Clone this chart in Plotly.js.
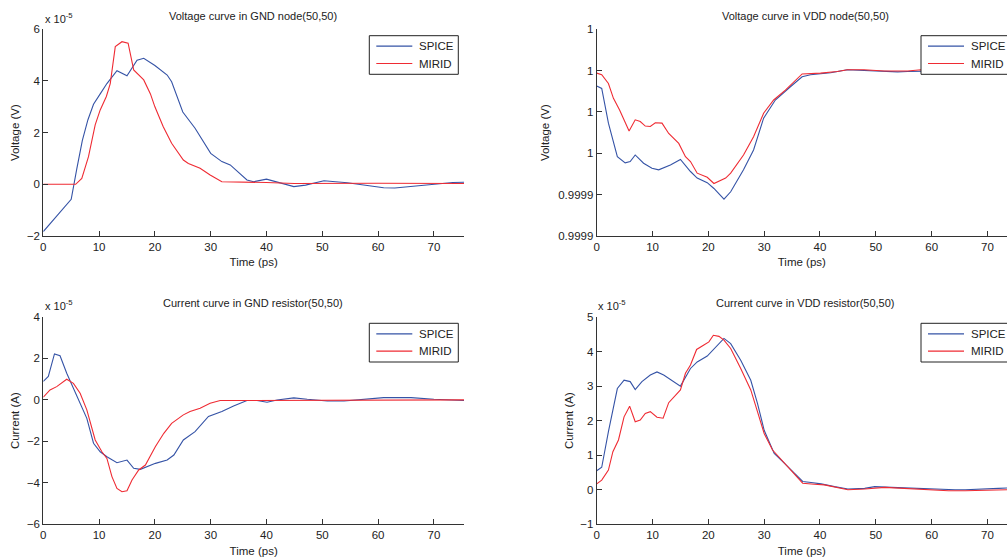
<!DOCTYPE html>
<html>
<head>
<meta charset="utf-8">
<script src="https://cdn.plot.ly/plotly-3.0.1.min.js"></script>
<style>
html,body{margin:0;padding:0;background:#fff;}
#chart{width:1007px;height:560px;}
</style>
</head>
<body>
<div id="chart"></div>
<script>
// ---------- DATA ----------
// Panel 1: Voltage curve in GND node(50,50)  (values x 1e-5 V)
const gndVoltSpiceT = [0,5,6,7,8,9,10.2,11.4,13.2,15,16.8,18,20,22.2,23,25,27.2,30,32,33.5,36.5,37.7,40,41.8,44.9,47,50.3,54.5,58,61,63,67,70,73.4,75.4];
const gndVoltSpiceV = [-1.83,-0.58,0.6,1.7,2.5,3.1,3.5,3.9,4.4,4.2,4.8,4.88,4.6,4.23,3.97,2.8,2.17,1.2,0.88,0.75,0.17,0.1,0.2,0.1,-0.09,-0.03,0.14,0.06,-0.04,-0.13,-0.14,-0.06,0.0,0.07,0.08];
const gndVoltMiridT = [0,5.8,6.9,8.1,9.3,10.2,11.3,12,12.9,14.1,15.2,16.2,18,19.2,20,21.5,23,25.1,26,28.1,29.9,32,40,45,60,75.4];
const gndVoltMiridV = [0,0,0.23,1.07,2.3,2.88,3.4,3.9,5.33,5.52,5.46,4.43,4.04,3.5,3.0,2.23,1.59,0.94,0.81,0.62,0.36,0.1,0.07,0.03,0.04,0.03];

// Panel 2: Voltage curve in VDD node(50,50)  (V)
const vddVoltSpiceT = [0,0.9,2.1,3.7,5.1,6,6.9,8.4,9.9,11.1,13.2,15,16.8,18,19.8,21,22.8,24,26.3,28.1,29.9,32,34.7,36.8,38.3,40.1,41.9,44.9,47.9,50.9,53.9,55.7,60,65,73.5];
const vddVoltSpiceV = [0.9999926,0.9999914,0.9999746,0.9999584,0.9999554,0.999956,0.9999592,0.9999552,0.9999528,0.999952,0.9999544,0.999957,0.9999512,0.999948,0.9999458,0.999943,0.9999378,0.9999414,0.999952,0.9999616,0.999977,0.9999858,0.9999922,0.999997,0.999998,0.9999984,0.999999,1.0000004,1.0,0.9999996,0.9999994,0.9999996,0.9999998,1.0,1.0];
const vddVoltMiridT = [0,0.9,2.1,3,4.1,5.1,5.8,6.9,7.8,8.7,9.6,10.5,11.7,12.9,14.7,15.9,16.8,18,19.8,21,23.1,24,26.3,28.1,29.9,31.7,33.8,36.8,40.1,43.1,44.9,47.9,51.5,55.7,58.1,65,73.5];
const vddVoltMiridV = [0.9999988,0.999998,0.9999938,0.9999866,0.999981,0.9999746,0.9999708,0.9999762,0.9999754,0.9999732,0.999973,0.9999748,0.9999746,0.9999696,0.9999648,0.9999584,0.999956,0.9999504,0.9999484,0.9999454,0.999948,0.9999504,0.9999592,0.999968,0.9999794,0.9999858,0.9999906,0.9999984,0.9999988,0.9999996,1.0000004,1.0000004,0.9999998,0.9999998,1.0000004,1.0000002,1.0000002];
const vddTickVals = [0.99992,0.99994,0.99996,0.99998,1.0,1.00002];
const vddTickText = ['0.9999','0.9999','1','1','1','1'];

// Panel 3: Current curve in GND resistor(50,50)  (values x 1e-5 A)
const gndCurSpiceT = [0,0.9,2,3,4.2,6,7.8,9,10.2,11.4,13.2,15,16.2,17.4,18.6,20.1,22.2,23.4,25.1,27.2,29.6,32,34.1,36.5,38.3,40.1,41.9,44.9,47.3,50.9,53.9,58,61,65.9,70,75.4];
const gndCurSpiceV = [0.89,1.13,2.22,2.13,1.29,0.16,-0.89,-2.09,-2.5,-2.74,-3.03,-2.9,-3.3,-3.35,-3.22,-3.06,-2.9,-2.66,-1.93,-1.53,-0.8,-0.56,-0.29,-0.03,-0.03,-0.11,0,0.1,0.03,-0.05,-0.05,0.06,0.11,0.11,0.03,-0.03];
const gndCurMiridT = [0,1.2,2.4,4.2,5.4,6.6,7.8,9.3,10.5,11.4,12.3,13.2,14.1,15,15.9,17.1,18.3,20.1,21.6,23,25.1,26.3,28.1,29.9,31.7,40,75.4];
const gndCurMiridV = [0.13,0.48,0.64,1.0,0.8,0.32,-0.48,-1.93,-2.5,-2.82,-3.7,-4.27,-4.43,-4.38,-3.86,-3.38,-3.14,-2.25,-1.61,-1.13,-0.72,-0.56,-0.4,-0.16,-0.03,-0.03,0];

// Panel 4: Current curve in VDD resistor(50,50)  (values x 1e-5 A)
const vddCurSpiceT = [0,0.9,2.1,3.7,4.9,6,6.9,8.1,9.6,10.8,12,15,16.8,18,19.8,21.6,22.8,24,25.8,27.6,28.8,30,31.8,33.6,36,36.9,38.4,40.2,42.6,45,48,49.8,52.8,57,60,64.2,66,69,72,73.5];
const vddCurSpiceV = [0.55,0.65,1.68,2.93,3.17,3.13,2.9,3.13,3.32,3.41,3.32,3.0,3.51,3.7,3.87,4.19,4.38,4.23,3.75,3.17,2.5,1.72,1.05,0.77,0.38,0.24,0.21,0.17,0.09,0.02,0.04,0.09,0.07,0.04,0.01,0,0,0.01,0.04,0.05];
const vddCurMiridT = [0,0.9,2.1,2.9,3.9,4.9,5.9,6.9,7.8,8.7,9.6,10.8,11.9,12.9,15,15.9,16.8,17.9,19.2,20.1,20.9,21.9,22.8,24,25.8,27.6,28.8,30,31.5,33.6,36,36.9,39,40.8,45,48,51.6,55.2,60,63,66,70.8,73.5];
const vddCurMiridV = [0.17,0.28,0.57,1.1,1.44,2.11,2.42,1.97,2.02,2.21,2.26,2.1,2.07,2.52,2.89,3.37,3.61,4.06,4.19,4.28,4.47,4.44,4.33,4.09,3.51,2.89,2.26,1.63,1.15,0.77,0.33,0.19,0.16,0.14,0,0.02,0.07,0.04,0.01,-0.03,-0.03,0,0];

const seriesNames = ['SPICE','MIRID'];
const titles = ['Voltage curve in GND node(50,50)','Voltage curve in VDD node(50,50)','Current curve in GND resistor(50,50)','Current curve in VDD resistor(50,50)'];
const xTitle = 'Time (ps)';
const yTitles = ['Voltage (V)','Voltage (V)','Current (A)','Current (A)'];
const expLabel = 'x 10<sup>-5</sup>';

// ---------- LAYOUT HELPERS ----------
const W = 1007, H = 560;
const px = x => x / W;
const py = y => (H - y) / H;
const BLUE = '#3553a6', RED = '#ef2b33';
const COLORS = [BLUE, RED];
const FONT = 'Liberation Sans, Arial, sans-serif';
const TXT = '#222';

const panels = [
  {ax:'', xs:gndVoltSpiceT, ys:gndVoltSpiceV, xm:gndVoltMiridT, ym:gndVoltMiridV},
  {ax:'2', xs:vddVoltSpiceT, ys:vddVoltSpiceV, xm:vddVoltMiridT, ym:vddVoltMiridV},
  {ax:'3', xs:gndCurSpiceT, ys:gndCurSpiceV, xm:gndCurMiridT, ym:gndCurMiridV},
  {ax:'4', xs:vddCurSpiceT, ys:vddCurSpiceV, xm:vddCurMiridT, ym:vddCurMiridV}
];

const traces = [];
panels.forEach((p,i)=>{
  traces.push({x:p.xs, y:p.ys, type:'scatter', mode:'lines', name:seriesNames[0],
    line:{color:BLUE, width:1.1}, xaxis:'x'+p.ax, yaxis:'y'+p.ax, showlegend:false});
  traces.push({x:p.xm, y:p.ym, type:'scatter', mode:'lines', name:seriesNames[1],
    line:{color:RED, width:1.1}, xaxis:'x'+p.ax, yaxis:'y'+p.ax, showlegend:false});
});

const leftX = [px(43.3), px(464)];
const rightX = [px(596.7), 1];
const topY = [py(236), py(29.3)];
const botY = [py(524.3), py(317)];

function xa(domain, anchor, range){
  return {domain:domain, anchor:anchor, range:range, showgrid:false, zeroline:false,
    showline:true, linecolor:'#333', linewidth:1, ticks:'inside', ticklen:5, tickcolor:'#333',
    tick0:0, dtick:10, tickfont:{family:FONT,size:11.5,color:TXT},
    title:{text:xTitle, font:{family:FONT,size:11.5,color:TXT}, standoff:6}, fixedrange:true};
}
function ya(domain, anchor, range, extra){
  return Object.assign({domain:domain, anchor:anchor, range:range, showgrid:false, zeroline:false,
    showline:true, linecolor:'#333', linewidth:1, ticks:'inside', ticklen:5, tickcolor:'#333',
    tickfont:{family:FONT,size:11.5,color:TXT}, fixedrange:true}, extra);
}
const yTitleFont = {family:FONT,size:11.5,color:TXT};

const annotations = [];
const shapes = [];
const titlePos = [[253,16],[805,16],[253,303],[805,303]];
titles.forEach((t,i)=>{
  annotations.push({text:t, x:px(titlePos[i][0]), y:py(titlePos[i][1]), xref:'paper', yref:'paper',
    xanchor:'center', yanchor:'middle', showarrow:false, font:{family:FONT,size:11,color:TXT}});
});
[[43,27],[43,314],[596,314]].forEach(p=>{
  annotations.push({text:expLabel, x:px(p[0]), y:py(p[1]), xref:'paper', yref:'paper',
    xanchor:'left', yanchor:'bottom', showarrow:false, font:{family:FONT,size:11,color:TXT}});
});

// Legend boxes (one per panel): left, top, right, bottom in pixels
const legendBoxes = [[369.3,35.7,458.3,74.3],[921,35.7,1010,74.3],[369.3,323.3,458.3,362],[921,323.3,1010,362]];
legendBoxes.forEach(b=>{
  shapes.push({type:'rect', xref:'paper', yref:'paper', x0:px(b[0]), x1:px(b[2]), y0:py(b[3]), y1:py(b[1]),
    fillcolor:'#fff', line:{color:'#222', width:1}, layer:'above'});
  const rowY = [b[1]+10.5, b[1]+27.8];
  seriesNames.forEach((n,k)=>{
    shapes.push({type:'line', xref:'paper', yref:'paper', x0:px(b[0]+7), x1:px(b[0]+43),
      y0:py(rowY[k]), y1:py(rowY[k]), line:{color:COLORS[k], width:1.2}, layer:'above'});
    annotations.push({text:n, x:px(b[0]+47.5), y:py(rowY[k]), xref:'paper', yref:'paper',
      xanchor:'left', yanchor:'middle', showarrow:false, font:{family:FONT,size:11.5,color:TXT}});
  });
});

const layout = {
  width:W, height:H, paper_bgcolor:'#fff', plot_bgcolor:'rgba(0,0,0,0)',
  margin:{l:0,r:0,t:0,b:0,pad:0, autoexpand:false},
  showlegend:false,
  font:{family:FONT,color:TXT},
  xaxis: xa(leftX,'y',[0,75.4]),
  yaxis: ya(topY,'x',[-2,6],{tick0:-2,dtick:2, title:{text:yTitles[0],font:yTitleFont,standoff:4}}),
  xaxis2: xa(rightX,'y2',[0,73.5]),
  yaxis2: ya(topY,'x2',[0.99992,1.00002],{tickmode:'array',tickvals:vddTickVals,ticktext:vddTickText, title:{text:yTitles[1],font:yTitleFont,standoff:6}}),
  xaxis3: xa(leftX,'y3',[0,75.4]),
  yaxis3: ya(botY,'x3',[-6,4],{tick0:-6,dtick:2, title:{text:yTitles[2],font:yTitleFont,standoff:4}}),
  xaxis4: xa(rightX,'y4',[0,73.5]),
  yaxis4: ya(botY,'x4',[-1,5],{tick0:-1,dtick:1, title:{text:yTitles[3],font:yTitleFont,standoff:4}}),
  annotations: annotations,
  shapes: shapes
};

Plotly.newPlot('chart', traces, layout, {displayModeBar:false, staticPlot:true});
</script>
</body>
</html>
